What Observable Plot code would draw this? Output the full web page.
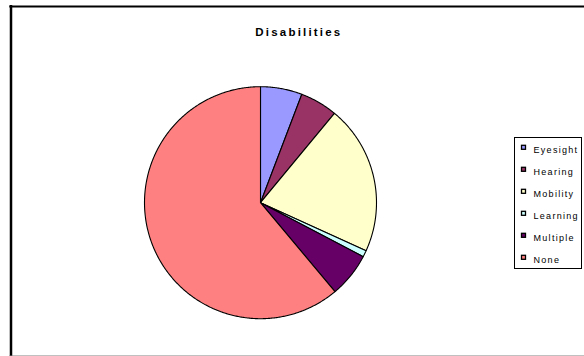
<!DOCTYPE html>
<html><head><meta charset="utf-8">
<script src="https://cdn.jsdelivr.net/npm/d3@7"></script>
<script src="https://cdn.jsdelivr.net/npm/@observablehq/plot@0.6"></script>
<style>
body{margin:0;background:#fff}
#chart svg{display:block;font-family:"Liberation Sans",Arial,sans-serif;background:#fff}
</style>
</head><body><div id="chart"></div>
<script>
const title = "Disabilities";
const categories = ["Eyesight", "Hearing", "Mobility", "Learning", "Multiple", "None"];
const values = [5.8, 5.2, 20.8, 0.9, 6.2, 61.1];
const colors = ["#9999FF", "#993366", "#FFFFCC", "#CCFFFF", "#660066", "#FF8080"];

const W = 584, H = 356;
const cx = 260, cy = 202.2, R = 116;

// Build slice polygons from the values (clockwise from 12 o'clock)
const total = d3.sum(values);
const slices = [];
let acc = 0;
categories.forEach((name, i) => {
  const a0 = acc / total * 2 * Math.PI;
  acc += values[i];
  const a1 = acc / total * 2 * Math.PI;
  slices.push({name, x: cx, y: cy});
  const n = Math.max(2, Math.ceil((a1 - a0) / (Math.PI / 360)));
  for (let k = 0; k <= n; k++) {
    const a = a0 + (a1 - a0) * k / n;
    slices.push({name, x: cx + R * Math.sin(a), y: cy - R * Math.cos(a)});
  }
});

const legendX = 514.5, legendTop = 137.5, legendBottom = 268.5, legendRight = 581.5;
const rowY = i => 147.3 + 22 * i;

const chart = Plot.plot({
  width: W, height: H, margin: 0,
  x: {domain: [0, W], range: [0, W], axis: null},
  y: {domain: [0, H], range: [0, H], axis: null},
  color: {domain: categories, range: colors},
  marks: [
    // outer chart frame
    Plot.ruleX([10.5], {y1: 5, y2: H, stroke: "black", strokeWidth: 2.5}),
    Plot.ruleY([6], {x1: 9.3, x2: W, stroke: "black", strokeWidth: 2}),
    Plot.ruleY([355.5], {x1: 9.3, x2: W, stroke: "#808080", strokeWidth: 1}),
    // pie
    Plot.line(slices, {x: "x", y: "y", z: "name", fill: "name", stroke: "black", strokeWidth: 1.1, curve: "linear-closed", strokeLinejoin: "round"}),
    // title
    Plot.text([title], {x: 298.4, y: 31.6, text: d => d, fontSize: 11.5, fontWeight: "bold", fill: "black", textAnchor: "middle"}),
    // legend
    Plot.rect([0], {x1: legendX, x2: legendRight, y1: legendTop, y2: legendBottom, fill: "white", stroke: "black", strokeWidth: 1}),
    Plot.rect(categories, {x1: 521.5, x2: 525.5, y1: (d, i) => rowY(i) - 2, y2: (d, i) => rowY(i) + 2, fill: d => d, stroke: "black", strokeWidth: 1.3}),
    Plot.text(categories, {x: 533, y: (d, i) => rowY(i) + 2.8, text: d => d, fontSize: 9, fill: "black", textAnchor: "start"})
  ]
});

const texts = chart.querySelectorAll('g[aria-label="text"]');
if (texts[0]) texts[0].style.letterSpacing = "2.2px";
if (texts[1]) texts[1].style.letterSpacing = "1.3px";
document.getElementById("chart").append(chart);
</script>
</body></html>
